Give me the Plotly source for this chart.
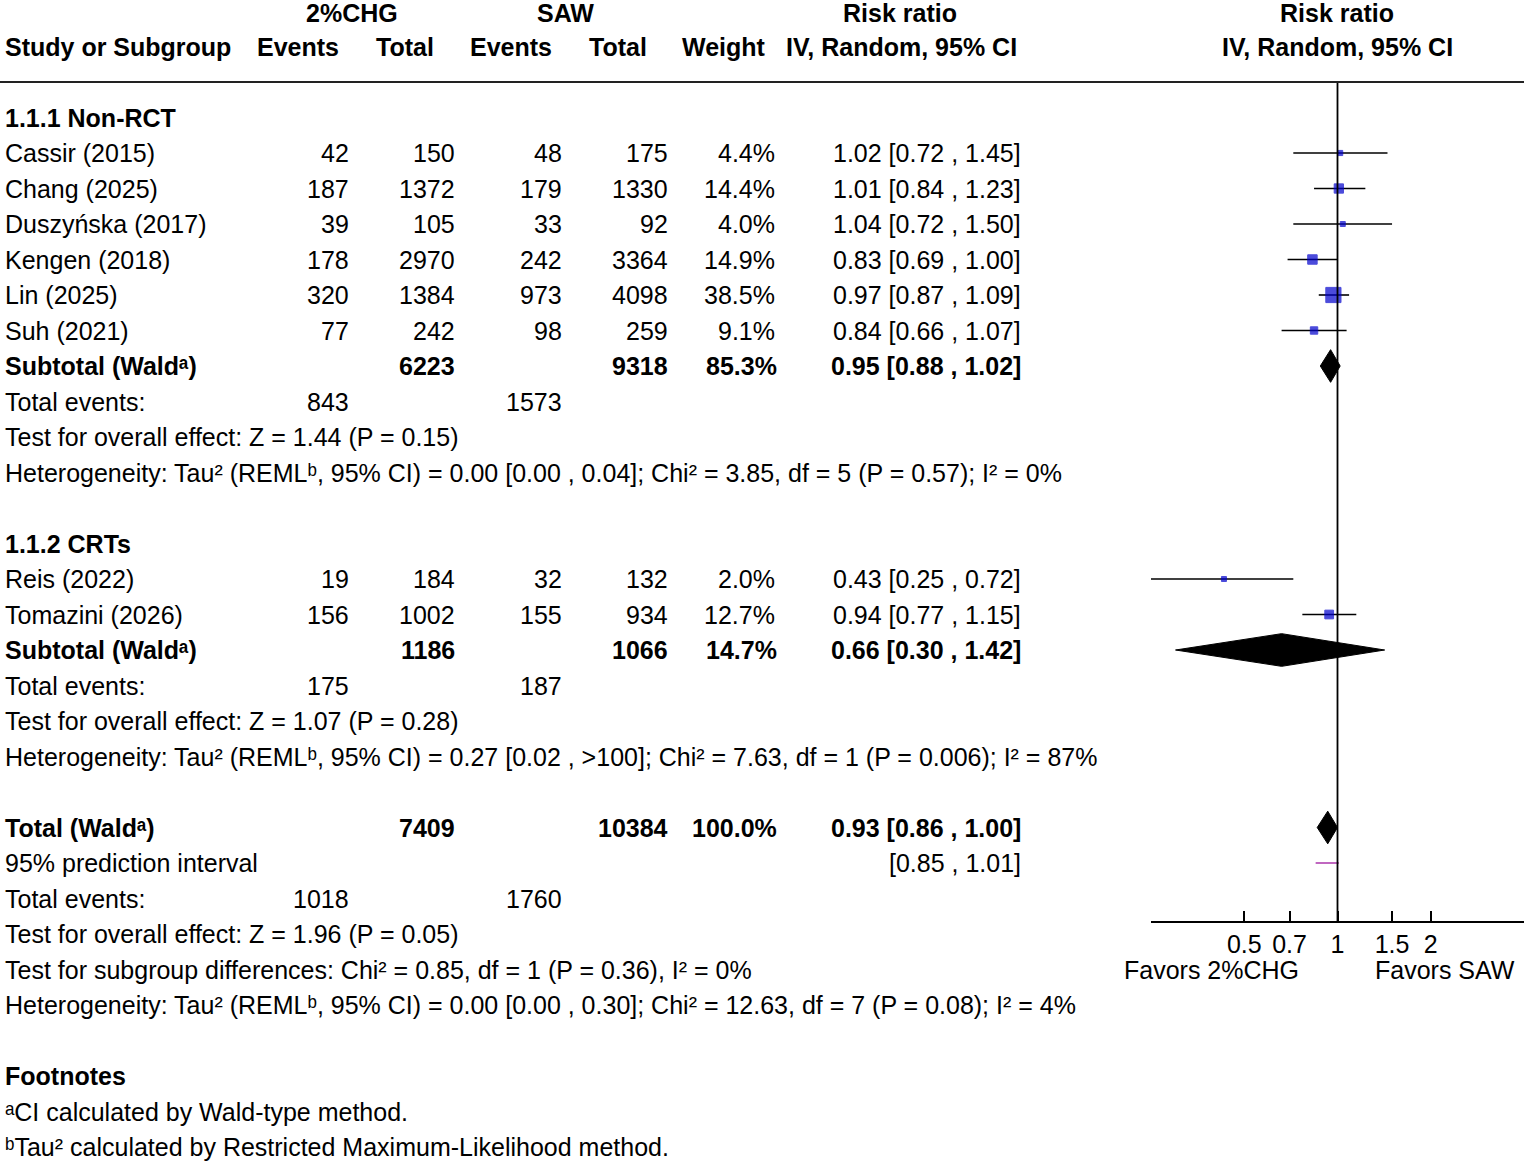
import math
import plotly.graph_objects as go

# ---- data -------------------------------------------------------------
group1_name = "1.1.1 Non-RCT"
group1_studies = ["Cassir (2015)", "Chang (2025)", "Duszyńska (2017)",
                  "Kengen (2018)", "Lin (2025)", "Suh (2021)"]
group1_chg_events = [42, 187, 39, 178, 320, 77]
group1_chg_total = [150, 1372, 105, 2970, 1384, 242]
group1_saw_events = [48, 179, 33, 242, 973, 98]
group1_saw_total = [175, 1330, 92, 3364, 4098, 259]
group1_weight = [4.4, 14.4, 4.0, 14.9, 38.5, 9.1]
group1_rr = [1.02, 1.01, 1.04, 0.83, 0.97, 0.84]
group1_lo = [0.72, 0.84, 0.72, 0.69, 0.87, 0.66]
group1_hi = [1.45, 1.23, 1.50, 1.00, 1.09, 1.07]
group1_sub = {"chg_total": 6223, "saw_total": 9318, "weight": 85.3,
              "rr": 0.95, "lo": 0.88, "hi": 1.02,
              "chg_events": 843, "saw_events": 1573}
group1_tests = ["Test for overall effect: Z = 1.44 (P = 0.15)",
                "Heterogeneity: Tau² (REMLᵇ, 95% CI) = 0.00 [0.00 , 0.04]; "
                "Chi² = 3.85, df = 5 (P = 0.57); I² = 0%"]

group2_name = "1.1.2 CRTs"
group2_studies = ["Reis (2022)", "Tomazini (2026)"]
group2_chg_events = [19, 156]
group2_chg_total = [184, 1002]
group2_saw_events = [32, 155]
group2_saw_total = [132, 934]
group2_weight = [2.0, 12.7]
group2_rr = [0.43, 0.94]
group2_lo = [0.25, 0.77]
group2_hi = [0.72, 1.15]
group2_sub = {"chg_total": 1186, "saw_total": 1066, "weight": 14.7,
              "rr": 0.66, "lo": 0.30, "hi": 1.42,
              "chg_events": 175, "saw_events": 187}
group2_tests = ["Test for overall effect: Z = 1.07 (P = 0.28)",
                "Heterogeneity: Tau² (REMLᵇ, 95% CI) = 0.27 [0.02 , >100]; "
                "Chi² = 7.63, df = 1 (P = 0.006); I² = 87%"]

total = {"chg_total": 7409, "saw_total": 10384, "weight": 100.0,
         "rr": 0.93, "lo": 0.86, "hi": 1.00,
         "chg_events": 1018, "saw_events": 1760}
pred_lo, pred_hi = 0.85, 1.01
total_tests = ["Test for overall effect: Z = 1.96 (P = 0.05)",
               "Test for subgroup differences: Chi² = 0.85, df = 1 (P = 0.36), I² = 0%",
               "Heterogeneity: Tau² (REMLᵇ, 95% CI) = 0.00 [0.00 , 0.30]; "
               "Chi² = 12.63, df = 7 (P = 0.08); I² = 4%"]
footnotes = ["ᵃCI calculated by Wald-type method.",
             "ᵇTau² calculated by Restricted Maximum-Likelihood method."]

axis_ticks = [0.5, 0.7, 1, 1.5, 2]
axis_ticktext = ["0.5", "0.7", "1", "1.5", "2"]
favors_left = "Favors 2%CHG"
favors_right = "Favors SAW"

# ---- layout constants (pixels) ---------------------------------------
W, H = 1524, 1162
ROW0, ROWH = 11, 35.5          # pixel of row 0, row height
FONT = "Liberation Sans, Arial, sans-serif"
FS = 25
BLUE = "#0000CC"

col_events1 = 351
col_total1 = 457
col_events2 = 564
col_total2 = 670
col_weight = 779
col_ci = 1023

def px(x):
    return x / W

fig = go.Figure()
ann = []

def text(x, row, s, anchor="left", bold=False, top=False):
    if bold:
        s = "<b>" + s + "</b>"
    a = dict(x=px(x), xref="paper", text=s, xanchor=anchor, showarrow=False,
             font=dict(family=FONT, size=FS, color="black"))
    if top:
        # very first header line sits right at the top edge
        a.update(y=1, yref="paper", yanchor="top", yshift=3)
    else:
        a.update(y=row, yref="y", yanchor="middle")
    ann.append(a)

def ci_str(r, lo, hi):
    return f"{r:.2f} [{lo:.2f} , {hi:.2f}]"

# headers
text(352, 0, "2%CHG", "center", True, top=True)
text(565, 0, "SAW", "center", True, top=True)
text(900, 0, "Risk ratio", "center", True, top=True)
text(1337, 0, "Risk ratio", "center", True, top=True)
text(3, 1, "Study or Subgroup", "left", True)
text(298, 1, "Events", "center", True)
text(405, 1, "Total", "center", True)
text(511, 1, "Events", "center", True)
text(618, 1, "Total", "center", True)
text(724, 1, "Weight", "center", True)
text(901, 1, "IV, Random, 95% CI", "center", True)
text(1337, 1, "IV, Random, 95% CI", "center", True)

study_rows, study_rr, study_lo, study_hi, study_w = [], [], [], [], []
diamonds = []

def add_group(start, name, studies, ce, ct, se, st, w, rr, lo, hi, sub, tests):
    text(3, start, name, "left", True)
    r = start + 1
    for i, s in enumerate(studies):
        text(3, r, s)
        text(col_events1, r, str(ce[i]), "right")
        text(col_total1, r, str(ct[i]), "right")
        text(col_events2, r, str(se[i]), "right")
        text(col_total2, r, str(st[i]), "right")
        text(col_weight - 2, r, f"{w[i]:.1f}%", "right")
        text(col_ci, r, ci_str(rr[i], lo[i], hi[i]), "right")
        study_rows.append(r)
        study_rr.append(rr[i]); study_lo.append(lo[i]); study_hi.append(hi[i])
        study_w.append(w[i])
        r += 1
    text(3, r, "Subtotal (Waldᵃ)", "left", True)
    text(col_total1, r, str(sub["chg_total"]), "right", True)
    text(col_total2, r, str(sub["saw_total"]), "right", True)
    text(col_weight, r, f"{sub['weight']:.1f}%", "right", True)
    text(col_ci, r, ci_str(sub["rr"], sub["lo"], sub["hi"]), "right", True)
    diamonds.append((r, sub["rr"], sub["lo"], sub["hi"]))
    r += 1
    text(3, r, "Total events:")
    text(col_events1, r, str(sub["chg_events"]), "right")
    text(col_events2, r, str(sub["saw_events"]), "right")
    r += 1
    for t in tests:
        text(3, r, t)
        r += 1
    return r

r = add_group(3, group1_name, group1_studies, group1_chg_events, group1_chg_total,
              group1_saw_events, group1_saw_total, group1_weight,
              group1_rr, group1_lo, group1_hi, group1_sub, group1_tests)
r = add_group(r + 1, group2_name, group2_studies, group2_chg_events, group2_chg_total,
              group2_saw_events, group2_saw_total, group2_weight,
              group2_rr, group2_lo, group2_hi, group2_sub, group2_tests)

r += 1
text(3, r, "Total (Waldᵃ)", "left", True)
text(col_total1, r, str(total["chg_total"]), "right", True)
text(col_total2, r, str(total["saw_total"]), "right", True)
text(col_weight, r, f"{total['weight']:.1f}%", "right", True)
text(col_ci, r, ci_str(total["rr"], total["lo"], total["hi"]), "right", True)
diamonds.append((r, total["rr"], total["lo"], total["hi"]))
r += 1
pred_row = r
text(3, r, "95% prediction interval")
text(col_ci, r, f"[{pred_lo:.2f} , {pred_hi:.2f}]", "right")
r += 1
text(3, r, "Total events:")
text(col_events1, r, str(total["chg_events"]), "right")
text(col_events2, r, str(total["saw_events"]), "right")
r += 1
for t in total_tests:
    text(3, r, t)
    r += 1
r += 1
text(3, r, "Footnotes", "left", True)
for fn in footnotes:
    r += 1
    text(3, r, fn)

# favors labels
text(1301, 27, favors_left, "right")
text(1373, 27, favors_right, "left")

# ---- forest plot marks -------------------------------------------------
# CI whiskers
ci_x, ci_y = [], []
for row, lo, hi in zip(study_rows, study_lo, study_hi):
    ci_x += [lo, hi, None]
    ci_y += [row, row, None]
fig.add_trace(go.Scatter(x=ci_x, y=ci_y, mode="lines",
                         line=dict(color="black", width=1.6),
                         hoverinfo="skip", showlegend=False))

# study squares, area ~ weight
sizes = [max(5, 2.45 * math.sqrt(w)) for w in study_w]
fig.add_trace(go.Scatter(x=study_rr, y=study_rows, mode="markers",
                         marker=dict(symbol="square", size=sizes, color=BLUE,
                                     line=dict(width=1, color=BLUE)),
                         showlegend=False))

# diamonds
DH = 0.46
for row, est, lo, hi in diamonds:
    fig.add_trace(go.Scatter(x=[lo, est, hi, est, lo],
                             y=[row, row - DH, row, row + DH, row],
                             mode="lines", fill="toself", fillcolor="black",
                             line=dict(color="black", width=1),
                             hoverinfo="skip", showlegend=False))

# prediction interval
fig.add_trace(go.Scatter(x=[pred_lo, pred_hi], y=[pred_row, pred_row], mode="lines",
                         line=dict(color="#B040B0", width=1.6),
                         hoverinfo="skip", showlegend=False))

axis_px = 922
axis_row = (axis_px - ROW0) / ROWH
header_row = (82 - ROW0) / ROWH

# reference line at RR = 1
fig.add_shape(type="line", xref="x", yref="y", x0=1, x1=1,
              y0=header_row, y1=axis_row, line=dict(color="black", width=1.8))
# header rule
fig.add_shape(type="line", xref="paper", yref="y", x0=0, x1=1,
              y0=header_row, y1=header_row, line=dict(color="#222222", width=2))

fig.update_layout(
    width=W, height=H,
    margin=dict(l=0, r=0, t=0, b=0),
    paper_bgcolor="white", plot_bgcolor="white",
    annotations=ann,
    showlegend=False,
    xaxis=dict(type="log", range=[math.log10(0.25), math.log10(4)],
               domain=[1151 / W, 1], anchor="free", position=1 - axis_px / H,
               showgrid=False, zeroline=False, showline=True,
               linecolor="black", linewidth=1.6,
               ticks="inside", ticklen=10, tickwidth=1.6, tickcolor="black",
               tickvals=axis_ticks, ticktext=axis_ticktext,
               tickfont=dict(family=FONT, size=FS, color="black")),
    yaxis=dict(range=[(H - ROW0) / ROWH, -ROW0 / ROWH], domain=[0, 1],
               visible=False, showgrid=False, zeroline=False),
)

fig.write_html("out.html", config={"displayModeBar": False},
               post_script="document.body.style.margin='0';")
